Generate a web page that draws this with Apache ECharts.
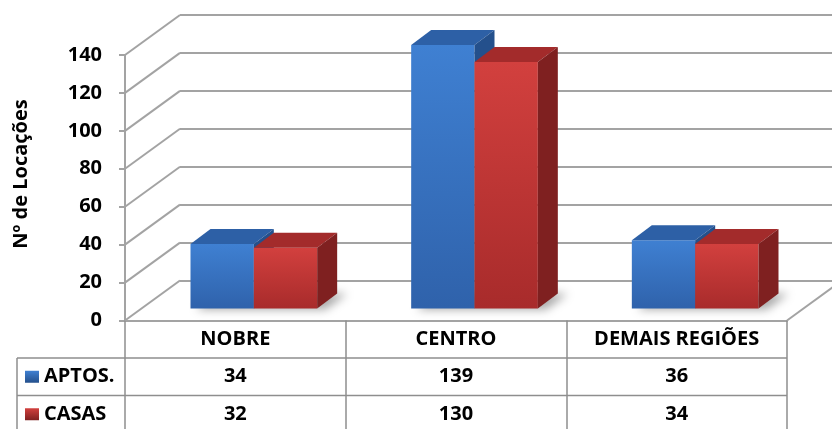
<!DOCTYPE html>
<html>
<head>
<meta charset="utf-8">
<script src="https://cdn.jsdelivr.net/npm/echarts@6/dist/echarts.min.js"></script>
<style>
  html, body { margin: 0; padding: 0; background: #fff; }
  #chart { width: 832px; height: 429px; }
</style>
</head>
<body>
<div id="chart"></div>
<script>
// Locações por região
const categories = ['NOBRE', 'CENTRO', 'DEMAIS REGIÕES'];
const aptos = [34, 139, 36];
const casas = [32, 130, 34];
const seriesNames = ['APTOS.', 'CASAS'];
const yTicks = [0, 20, 40, 60, 80, 100, 120, 140];
const yTitle = 'Nº de Locações';

// layout of the pseudo-3D box
const GRID = { left: 125, top: 55, width: 662, height: 265.5 };
const WALL = { dx: 55, dy: -40 };     // back wall offset
const FACE = { dx: 18.5, dy: -12 };   // plane of the bars' front faces
const DEPTH = { dx: 20, dy: -15 };    // bar depth
const BAR_FRAC = 0.287;
const ROW_H = 37.5;
const FONT = "'Open Sans', sans-serif";
const FONT_SIZE = 20;
const GRID_COLOR = '#a3a3a3';
const TABLE_COLOR = '#8e8e8e';

const PALETTE = [
  { front: ['#3f80d2', '#2f62ab'], top: '#2d60a6', side: '#24508c' },
  { front: ['#d2403e', '#a82b2b'], top: '#a32b2b', side: '#7f2020' }
];

const chart = echarts.init(document.getElementById('chart'), null, { renderer: 'canvas' });

function barItem(k) {
  return function (params, api) {
    const cat = api.value(0), val = api.value(1);
    const base = api.coord([cat, 0]);
    const top = api.coord([cat, val]);
    const bw = api.size([1, 0])[0] * BAR_FRAC;
    const x0 = base[0] + FACE.dx - bw + k * bw;
    const x1 = x0 + bw;
    const yb = base[1] + FACE.dy;
    const yt = top[1] + FACE.dy;
    const c = PALETTE[k];
    return {
      type: 'group',
      children: [
        {
          type: 'rect',
          shape: { x: x0, y: yt, width: bw, height: yb - yt },
          style: {
            fill: new echarts.graphic.LinearGradient(0, 0, 0, 1, [
              { offset: 0, color: c.front[0] }, { offset: 1, color: c.front[1] }
            ])
          }
        },
        {
          type: 'polygon',
          shape: { points: [[x0, yt], [x1, yt], [x1 + DEPTH.dx, yt + DEPTH.dy], [x0 + DEPTH.dx, yt + DEPTH.dy]] },
          style: { fill: c.top }
        },
        {
          type: 'polygon',
          shape: { points: [[x1, yt], [x1 + DEPTH.dx, yt + DEPTH.dy], [x1 + DEPTH.dx, yb + DEPTH.dy], [x1, yb]] },
          style: { fill: c.side }
        }
      ]
    };
  };
}

// soft floor shadow under each pair of bars (only the blurred shadow is visible)
function shadowItem(params, api) {
  const cat = api.value(0);
  const base = api.coord([cat, 0]);
  const bw = api.size([1, 0])[0] * BAR_FRAC;
  const xL = base[0] + FACE.dx - bw;
  const xR = xL + 2 * bw;
  const yb = base[1] + FACE.dy;
  const off = 3000;
  return {
    type: 'polygon',
    shape: {
      points: [[xL + 6 - off, yb + 1], [xR + 8 - off, yb + 1],
               [xR + DEPTH.dx + 10 - off, yb + DEPTH.dy], [xL + DEPTH.dx - off, yb + DEPTH.dy]]
    },
    style: { fill: '#000', shadowBlur: 10, shadowColor: 'rgba(0,0,0,0.35)', shadowOffsetX: off, shadowOffsetY: 0 }
  };
}

// side-wall and floor edges
function wallItem(params, api) {
  const v = api.value(1);
  const p = api.coord([0, v]);
  const cs = params.coordSys;
  const children = [{
    type: 'line',
    shape: { x1: cs.x, y1: p[1], x2: cs.x + WALL.dx, y2: p[1] + WALL.dy },
    style: { stroke: GRID_COLOR, lineWidth: 2 }
  }];
  if (v === 0) {
    children.push({
      type: 'line',
      shape: { x1: cs.x + cs.width, y1: p[1], x2: cs.x + cs.width + WALL.dx, y2: p[1] + WALL.dy },
      style: { stroke: GRID_COLOR, lineWidth: 2 }
    });
  }
  return { type: 'group', children: children };
}

// data table below the plot
function tableItem(params, api) {
  const cat = api.value(0);
  const cs = params.coordSys;
  const x = api.coord([cat, 0])[0];
  const y0 = cs.y + cs.height;
  const txt = (text, tx, ty, align) => ({
    type: 'text',
    style: {
      text: text, x: tx, y: ty, align: align || 'center', verticalAlign: 'middle',
      fill: '#000', font: 'bold ' + FONT_SIZE + 'px ' + FONT
    }
  });
  const children = [
    txt(String(api.value(1)), x, y0 + ROW_H * 1.5),
    txt(String(api.value(2)), x, y0 + ROW_H * 2.5)
  ];
  if (params.dataIndex === 0) {
    const left = 17;
    const right = cs.x + cs.width;
    [1, 2].forEach(r => children.push({
      type: 'line',
      shape: { x1: left, y1: y0 + ROW_H * r, x2: right, y2: y0 + ROW_H * r },
      style: { stroke: TABLE_COLOR, lineWidth: 1.5 }
    }));
    children.push({
      type: 'line',
      shape: { x1: left, y1: y0 + ROW_H, x2: left, y2: y0 + ROW_H * 3 },
      style: { stroke: TABLE_COLOR, lineWidth: 1.5 }
    });
    seriesNames.forEach((name, k) => {
      const cy = y0 + ROW_H * (1.5 + k);
      children.push({
        type: 'rect',
        shape: { x: 25, y: cy - 6, width: 14, height: 12 },
        style: {
          fill: new echarts.graphic.LinearGradient(0, 0, 0, 1, [
            { offset: 0, color: PALETTE[k].front[0] }, { offset: 1, color: PALETTE[k].side }
          ])
        }
      });
      children.push(txt(name, 44, cy, 'left'));
    });
  }
  return { type: 'group', children: children };
}

const catIdx = categories.map((_, i) => i);

chart.setOption({
  animation: false,
  backgroundColor: '#fff',
  grid: [
    { left: GRID.left, top: GRID.top, width: GRID.width, height: GRID.height },
    { left: GRID.left + WALL.dx, top: GRID.top + WALL.dy, width: GRID.width, height: GRID.height }
  ],
  xAxis: [
    {
      gridIndex: 0, type: 'category', data: categories,
      axisLine: { lineStyle: { color: GRID_COLOR, width: 2 } },
      axisTick: { show: true, length: 110, lineStyle: { color: TABLE_COLOR, width: 1.5 } },
      axisLabel: { fontFamily: FONT, fontWeight: 'bold', fontSize: FONT_SIZE, color: '#000', margin: 19, verticalAlign: 'middle' },
      splitLine: { show: false }
    },
    {
      gridIndex: 1, type: 'category', data: categories, show: false
    }
  ],
  yAxis: [
    {
      gridIndex: 0, type: 'value', min: yTicks[0], max: yTicks[yTicks.length - 1], interval: yTicks[1] - yTicks[0],
      axisLine: { show: true, lineStyle: { color: GRID_COLOR, width: 2 } },
      axisTick: { show: true, length: 6, lineStyle: { color: GRID_COLOR, width: 2 } },
      axisLabel: { fontFamily: FONT, fontWeight: 'bold', fontSize: FONT_SIZE, color: '#000', margin: 23 },
      splitLine: { show: false }
    },
    {
      gridIndex: 1, type: 'value', min: yTicks[0], max: yTicks[yTicks.length - 1], interval: yTicks[1] - yTicks[0],
      axisLine: { show: false }, axisTick: { show: false }, axisLabel: { show: false },
      splitLine: { show: true, lineStyle: { color: GRID_COLOR, width: 2 } }
    }
  ],
  graphic: [{
    type: 'text', x: 21, y: 174, rotation: Math.PI / 2,
    style: { text: yTitle, align: 'center', verticalAlign: 'middle', fill: '#000', font: 'bold ' + FONT_SIZE + 'px ' + FONT }
  }],
  series: [
    {
      name: 'walls', type: 'custom', xAxisIndex: 0, yAxisIndex: 0, z: 1, silent: true,
      renderItem: wallItem, data: yTicks.map(v => [0, v])
    },
    {
      name: 'shadow', type: 'custom', xAxisIndex: 0, yAxisIndex: 0, z: 1, silent: true,
      renderItem: shadowItem, data: catIdx.map(i => [i, 0])
    },
    {
      name: seriesNames[0], type: 'custom', xAxisIndex: 0, yAxisIndex: 0, z: 2,
      renderItem: barItem(0), data: catIdx.map(i => [i, aptos[i]])
    },
    {
      name: seriesNames[1], type: 'custom', xAxisIndex: 0, yAxisIndex: 0, z: 2,
      renderItem: barItem(1), data: catIdx.map(i => [i, casas[i]])
    },
    {
      name: 'table', type: 'custom', xAxisIndex: 0, yAxisIndex: 0, z: 3, silent: true,
      renderItem: tableItem, data: catIdx.map(i => [i, aptos[i], casas[i]])
    }
  ]
});
</script>
</body>
</html>
